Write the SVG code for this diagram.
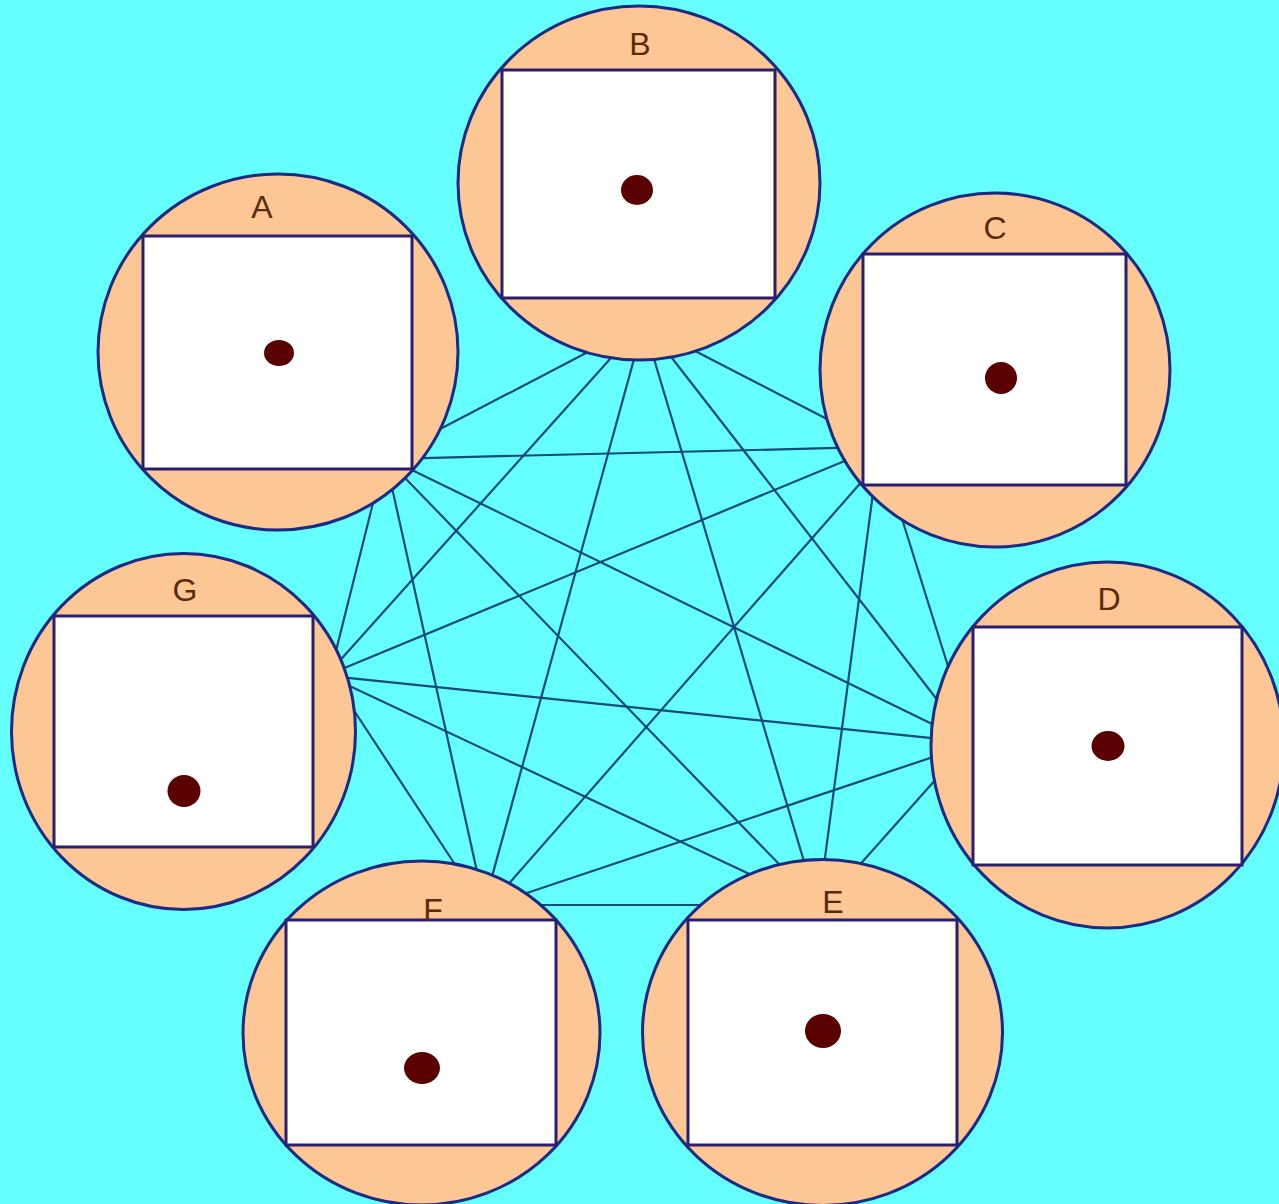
<svg xmlns="http://www.w3.org/2000/svg" width="1279" height="1204" viewBox="0 0 1279 1204">
<style>
.bg{fill:#66FFFF}
.edge{stroke:#0e4a7e;stroke-width:2.2;fill:none}
.ring{fill:#FCC794;stroke:#1a2a86;stroke-width:3}
.box{fill:#FFFFFF;stroke:#2a1f6e;stroke-width:3}
.dot{fill:#5a0000}
.lbl{font-family:"Liberation Sans",Arial,sans-serif;font-size:32px;fill:#5a2a0a;text-anchor:middle}
</style>
<rect class="bg" x="0" y="0" width="1279" height="1204"/>
<g id="connectors">
<line class="edge" x1="433.4" y1="432.6" x2="596.6" y2="347.4"/>
<line class="edge" x1="414" y1="458.3" x2="847" y2="447.7"/>
<line class="edge" x1="401.2" y1="464.7" x2="940.8" y2="728.3"/>
<line class="edge" x1="398.7" y1="471.4" x2="785.3" y2="870.6"/>
<line class="edge" x1="390.4" y1="480.3" x2="478.6" y2="878.7"/>
<line class="edge" x1="374.9" y1="495.4" x2="335.1" y2="654.6"/>
<line class="edge" x1="686.3" y1="346.5" x2="833.7" y2="422.5"/>
<line class="edge" x1="664.6" y1="348.5" x2="942.4" y2="706.5"/>
<line class="edge" x1="650.6" y1="347.5" x2="806.4" y2="869.5"/>
<line class="edge" x1="637.2" y1="347.4" x2="489.8" y2="884.6"/>
<line class="edge" x1="619" y1="349.1" x2="335" y2="665.9"/>
<line class="edge" x1="899.4" y1="510.5" x2="950.6" y2="674.5"/>
<line class="edge" x1="873.6" y1="488.1" x2="823.4" y2="869.9"/>
<line class="edge" x1="864.9" y1="478" x2="504.1" y2="889"/>
<line class="edge" x1="853.1" y1="457.4" x2="335.9" y2="671.6"/>
<line class="edge" x1="937" y1="778" x2="856" y2="869"/>
<line class="edge" x1="941.4" y1="754.2" x2="518.6" y2="895.8"/>
<line class="edge" x1="941.9" y1="739.2" x2="338.1" y2="676.8"/>
<line class="edge" x1="704" y1="905" x2="539" y2="905"/>
<line class="edge" x1="757.9" y1="878.1" x2="341.1" y2="681.9"/>
<line class="edge" x1="460.6" y1="873" x2="348.4" y2="702"/>
</g>
<g id="node-A">
<ellipse class="ring" cx="278" cy="352" rx="180" ry="178"/>
<rect class="box" x="143" y="236" width="269" height="233"/>
<ellipse class="dot" cx="279" cy="353" rx="15" ry="13"/>
<text class="lbl" x="262" y="218">A</text>
</g>
<g id="node-B">
<ellipse class="ring" cx="639" cy="183" rx="181" ry="177"/>
<rect class="box" x="502" y="70" width="273" height="228"/>
<ellipse class="dot" cx="637" cy="190" rx="16" ry="15"/>
<text class="lbl" x="640" y="55">B</text>
</g>
<g id="node-C">
<ellipse class="ring" cx="995" cy="370" rx="175" ry="177"/>
<rect class="box" x="863" y="254" width="263" height="231"/>
<ellipse class="dot" cx="1001" cy="378" rx="16" ry="16"/>
<text class="lbl" x="995" y="239">C</text>
</g>
<g id="node-D">
<ellipse class="ring" cx="1107.5" cy="745" rx="176.5" ry="183"/>
<rect class="box" x="973" y="627" width="269" height="238"/>
<ellipse class="dot" cx="1108" cy="746" rx="16.5" ry="15"/>
<text class="lbl" x="1109" y="610">D</text>
</g>
<g id="node-E">
<ellipse class="ring" cx="822.5" cy="1032.5" rx="180" ry="173"/>
<rect class="box" x="688" y="920" width="269" height="225"/>
<ellipse class="dot" cx="823" cy="1031" rx="18" ry="17"/>
<text class="lbl" x="833" y="913">E</text>
</g>
<g id="node-F">
<ellipse class="ring" cx="421.5" cy="1033" rx="178.5" ry="172"/>
<rect class="box" x="286" y="920" width="270" height="225"/>
<ellipse class="dot" cx="422" cy="1068" rx="18" ry="16"/>
<text class="lbl" x="433" y="921">F</text>
</g>
<g id="node-G">
<ellipse class="ring" cx="183.5" cy="731.5" rx="172" ry="178"/>
<rect class="box" x="54" y="616" width="259" height="231"/>
<ellipse class="dot" cx="184" cy="791" rx="16.5" ry="16"/>
<text class="lbl" x="185" y="601">G</text>
</g>
</svg>
